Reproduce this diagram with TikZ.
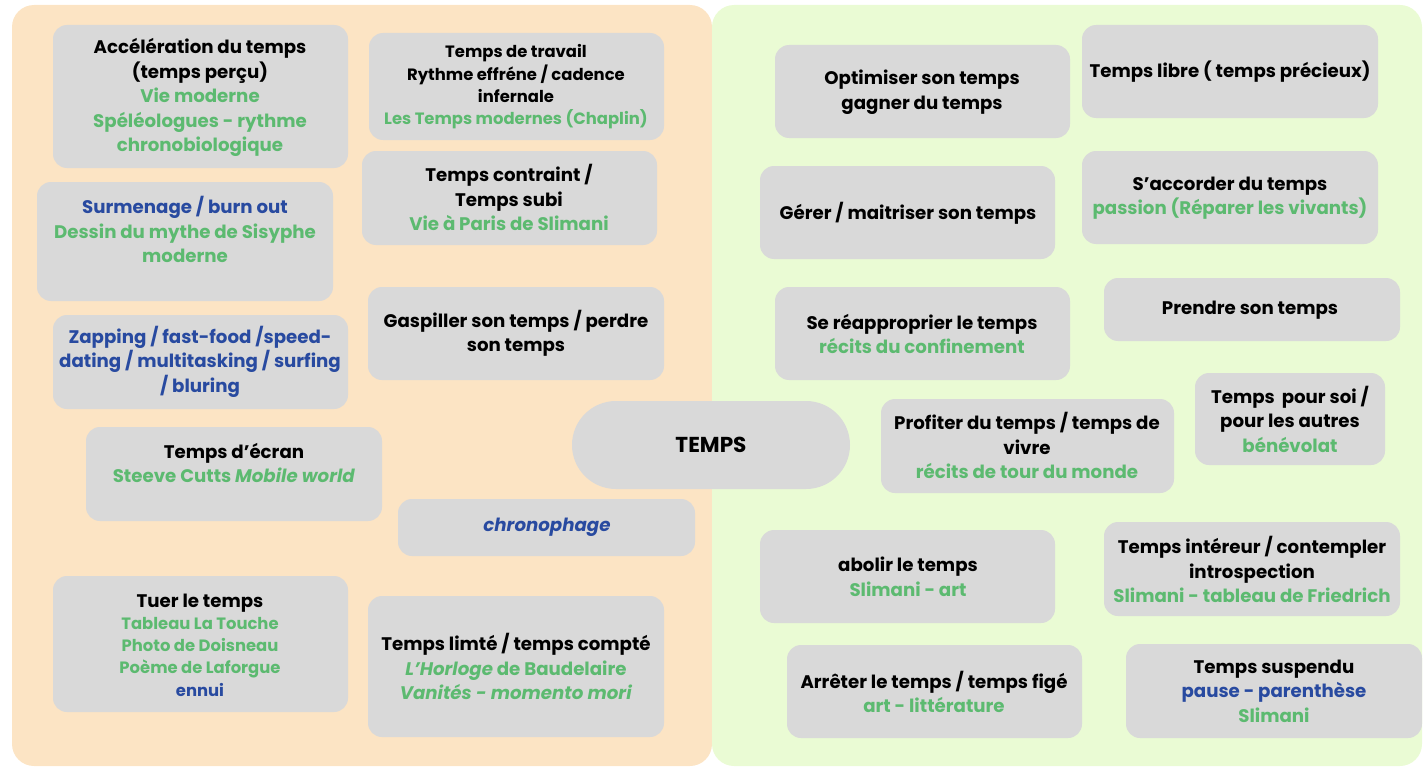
\documentclass[tikz,border=0pt]{standalone}
\usepackage{fontspec}
\setmainfont{Poppins}[UprightFont={* Bold},ItalicFont={* Bold Italic},BoldFont={* Bold}]
\definecolor{peach}{RGB}{252,228,196}
\definecolor{lgreen}{RGB}{234,251,212}
\definecolor{boxgray}{RGB}{217,217,217}
\definecolor{tgreen}{RGB}{92,186,112}
\definecolor{tblue}{RGB}{40,74,160}
\newcommand\gr[1]{\textcolor{tgreen}{#1}}
\newcommand\bl[1]{\textcolor{tblue}{#1}}
\tikzset{
  box/.style={fill=boxgray, rounded corners=14pt, inner sep=0pt},
  txt/.style={align=center, inner sep=0pt, font=\fontsize{18.2}{24.5}\selectfont},
  stxt/.style={align=center, inner sep=0pt, font=\fontsize{16.4}{22.3}\selectfont},
}
\begin{document}
\begin{tikzpicture}[x=1pt,y=-1pt]
\useasboundingbox (0,0) rectangle (1428,768);
\fill[peach, rounded corners=22pt] (12,5) rectangle (712,766);
\fill[lgreen, rounded corners=22pt] (712,5) rectangle (1422,766);

% left side
\node[box, minimum width=295pt, minimum height=143pt] (b1) at (200.5,96.5) {};
\node[txt] (t1) at (200,97.5) {Accélération du temps\\(temps perçu)\\\gr{Vie moderne}\\\gr{Spéléologues - rythme}\\\gr{chronobiologique}};

\node[box, minimum width=295pt, minimum height=107pt] (b2) at (516.5,86.5) {};
\node[stxt] (t2) at (516,87) {Temps de travail\\Rythme effréne / cadence\\infernale\\\gr{Les Temps modernes (Chaplin)}};

\node[box, minimum width=296pt, minimum height=119pt] (b3) at (185,241.5) {};
\node[txt] (t3) at (185,229.5) {\bl{Surmenage / burn out}\\\gr{Dessin du mythe de Sisyphe}\\\gr{moderne}};

\node[box, minimum width=295pt, minimum height=94pt] (b4) at (509.5,198) {};
\node[txt] (t4) at (509,197.5) {Temps contraint /\\Temps subi\\\gr{Vie à Paris de Slimani}};

\node[box, minimum width=295pt, minimum height=94pt] (b5) at (200.5,362) {};
\node[txt] (t5) at (200,361.5) {\bl{Zapping / fast-food /speed-}\\\bl{dating / multitasking / surfing}\\\bl{/ bluring}};

\node[box, minimum width=296pt, minimum height=93pt] (b6) at (516,333.5) {};
\node[txt] (t6) at (516,333.5) {Gaspiller son temps / perdre\\son temps};

\node[box, minimum width=296pt, minimum height=94pt] (b7) at (234,474) {};
\node[txt] (t7) at (234,463) {Temps d’écran\\\gr{Steeve Cutts \textit{Mobile world}}};

\node[box, minimum width=297pt, minimum height=57pt] (b8) at (546.5,527.5) {};
\node[txt] (t8) at (547,527.5) {\bl{\textit{chronophage}}};

\node[box, minimum width=295pt, minimum height=136pt] (b9) at (200.5,644) {};
\node[stxt] (t9) at (200,645) {{\fontsize{18.2}{24.5}\selectfont Tuer le temps}\\\gr{Tableau La Touche}\\\gr{Photo de Doisneau}\\\gr{Poème de Laforgue}\\\bl{ennui}};

\node[box, minimum width=296pt, minimum height=141pt] (b10) at (516,666.5) {};
\node[txt] (t10) at (516,666.5) {Temps limté / temps compté\\\gr{\textit{L’Horloge} de Baudelaire}\\\gr{\textit{Vanités - momento mori}}};

% centre
\node[box, rounded corners=44pt, minimum width=278pt, minimum height=88pt] (temps) at (711,445) {};
\node[inner sep=0pt, font=\fontsize{21.6}{24}\bfseries] (tt) at (711,445) {TEMPS};

% right side
\node[box, minimum width=295pt, minimum height=93pt] (b11) at (922.5,91.5) {};
\node[txt] (t11) at (922,92) {Optimiser son temps\\gagner du temps};

\node[box, minimum width=296pt, minimum height=93pt] (b12) at (1230,71.5) {};
\node[txt] (t12) at (1230,71.5) {Temps libre ( temps précieux)};

\node[box, minimum width=295pt, minimum height=93pt] (b13) at (907.5,212.5) {};
\node[txt] (t13) at (908,213.5) {Gérer / maitriser son temps};

\node[box, minimum width=296pt, minimum height=93pt] (b14) at (1230,197.5) {};
\node[txt] (t14) at (1230,198) {S’accorder du temps\\\gr{passion (Réparer les vivants)}};

\node[box, minimum width=295pt, minimum height=93pt] (b15) at (922.5,333.5) {};
\node[txt] (t15) at (922,334) {Se réapproprier le temps\\\gr{récits du confinement}};

\node[box, minimum width=296pt, minimum height=63pt] (b16) at (1252,309.5) {};
\node[txt] (t16) at (1250,310.5) {Prendre son temps};

\node[box, minimum width=190pt, minimum height=92pt] (b17) at (1290,419) {};
\node[txt] (t17) at (1290,419) {Temps\, pour soi /\\pour les autres\\\gr{bénévolat}};

\node[box, minimum width=293pt, minimum height=94pt] (b18) at (1027.5,446) {};
\node[txt] (t18) at (1027,445.5) {Profiter du temps / temps de\\vivre\\\gr{récits de tour du monde}};

\node[box, minimum width=295pt, minimum height=93pt] (b19) at (907.5,576.5) {};
\node[txt] (t19) at (908,577) {abolir le temps\\\gr{Slimani - art}};

\node[box, minimum width=296pt, minimum height=94pt] (b20) at (1252,569) {};
\node[txt] (t20) at (1252,569.5) {Temps intéreur / contempler\\introspection\\\gr{Slimani - tableau de Friedrich}};

\node[box, minimum width=295pt, minimum height=93pt] (b21) at (934.5,691.5) {};
\node[txt] (t21) at (934,692) {Arrêter le temps / temps figé\\\gr{art - littérature}};

\node[box, minimum width=296pt, minimum height=94pt] (b22) at (1274,691) {};
\node[txt] (t22) at (1274,691) {Temps suspendu\\\bl{pause - parenthèse}\\\gr{Slimani}};
\end{tikzpicture}
\end{document}
